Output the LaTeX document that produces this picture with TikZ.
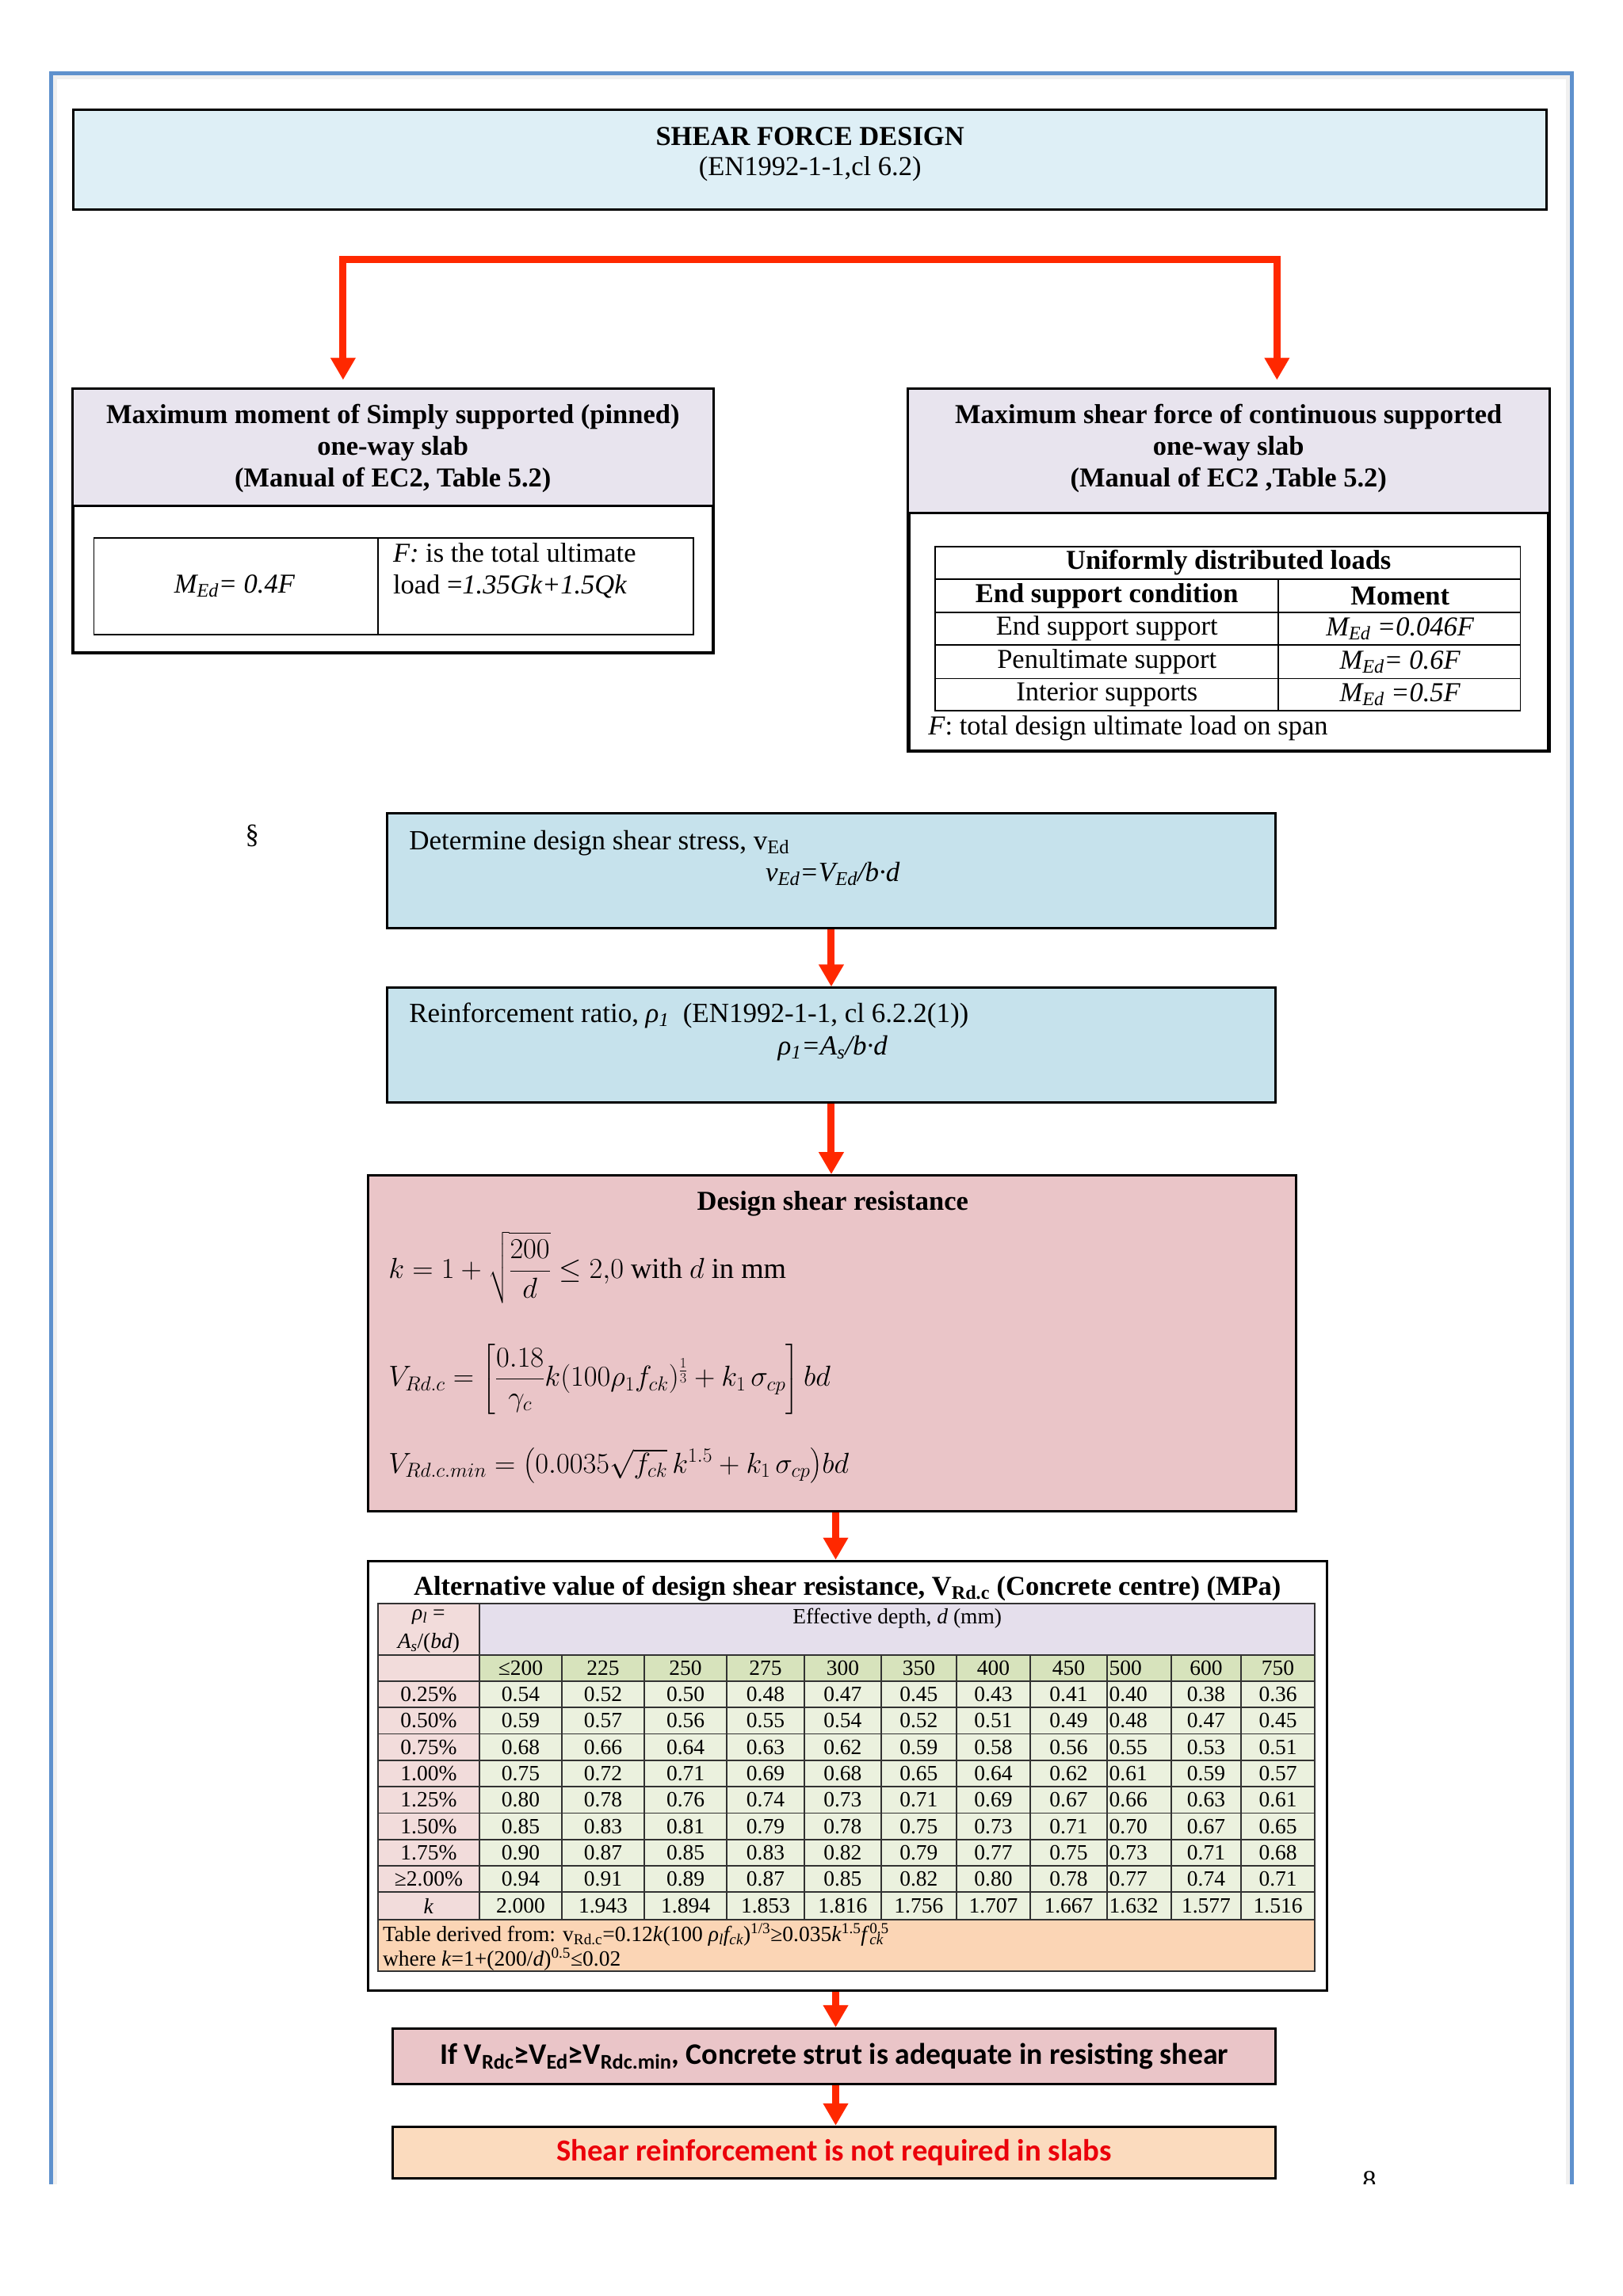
\RequirePackage{fix-cm}
\documentclass[tikz,border=0pt]{standalone}
\usepackage{amsmath}
\usepackage{fontspec}
\setmainfont{Liberation Serif}
\newfontfamily\carlito{Carlito}
\usetikzlibrary{arrows.meta,calc}
\definecolor{pageblue}{RGB}{95,145,205}
\definecolor{titleblue}{RGB}{222,239,246}
\definecolor{stepblue}{RGB}{198,226,236}
\definecolor{hdrlav}{RGB}{232,228,238}
\definecolor{pinkbox}{RGB}{234,197,200}
\definecolor{arrowred}{RGB}{255,40,0}
\definecolor{colpink}{RGB}{242,220,219}
\definecolor{rowlav}{RGB}{229,223,236}
\definecolor{rowgreen}{RGB}{215,227,188}
\definecolor{cellgreen}{RGB}{235,241,222}
\definecolor{footpeach}{RGB}{251,213,181}
\definecolor{lastpeach}{RGB}{251,219,190}
\definecolor{textred}{RGB}{235,0,10}
\definecolor{gridgray}{RGB}{50,50,50}
\tikzset{
  box/.style={draw=black, line width=3pt, inner sep=0pt, rectangle},
  boxsize/.style args={#1x#2}{minimum width=#1*1.85pt, minimum height=#2*1.85pt},
  txt/.style={inner sep=0pt, font=\fontsize{34.5}{39.8}\selectfont},
  hdr/.style={inner sep=0pt, font=\fontsize{34.5}{39.8}\selectfont\bfseries, align=center},
  steptxt/.style={inner sep=0pt, font=\fontsize{35}{40}\selectfont},
  tbl/.style={inner sep=0pt, font=\fontsize{27.5}{31}\selectfont},
  mathtxt/.style={inner sep=0pt, anchor=west, font=\fontsize{36.5}{42}\selectfont},
  thin/.style={draw=black, line width=1.8pt},
  grid/.style={draw=gridgray, line width=1.8pt},
  redarr/.style={draw=arrowred, line width=9pt, -{Triangle[width=30pt,length=28pt]}},
  bracket/.style={draw=arrowred, line width=9pt, {Triangle[width=30pt,length=28pt]}-{Triangle[width=30pt,length=28pt]}}
}
\newcommand\tblrow[3]{%
  \node[tbl] at (292.4,#1) {#2};
  \foreach \v [count=\c] in {#3} {
    \ifnum\c=9
      \node[tbl,anchor=west] at (756.5,#1) {\v};
    \else
      \pgfmathsetmacro\cx{{355.1,411.35,467.6,522.15,574.8,626.7,677.55,728.9,777,822.7,871.65}[\c-1]}
      \node[tbl] at (\cx,#1) {\v};
    \fi
  }%
}
\begin{document}
\begin{tikzpicture}[x=1.85pt,y=-1.85pt]
\useasboundingbox (0,0) rectangle (1107.03,1566.49);
\fill[white] (0,0) rectangle (1107.03,1566.49);

% page frame
\draw[gray!12, line width=5pt] (37.5,1490) -- (37.5,52.5) -- (1069.5,52.5) -- (1069.5,1490);
\draw[pageblue, line width=5pt] (35,1490) -- (35,50) -- (1072,50) -- (1072,1490);

% title
\node[box, fill=titleblue, boxsize=1005x68] (title) at (552.5,109) {};
\node[txt, font=\fontsize{34.5}{39.8}\selectfont\bfseries] (t1) at (552.5,93) {SHEAR FORCE DESIGN};
\node[txt] (t2) at (552.5,115) {(EN1992-1-1,cl 6.2)};

% left box
\node[box, fill=white, boxsize=436x179] (lbox) at (268,355.5) {};
\fill[hdrlav] (50,266) rectangle (486,345);
\draw[box] (lbox.north west) rectangle (lbox.south east);
\draw[box] (50,345) -- (486,345);
\node[hdr] (lhdr) at (268,306) {Maximum moment of Simply supported (pinned)\\one-way slab\\(Manual of EC2, Table 5.2)};
\draw[thin] (64,367) rectangle (473,433);
\draw[thin] (258,367) -- (258,433);
\node[txt] (med) at (160,400) {\textit{M\textsubscript{Ed}= 0.4F}};
\node[txt, anchor=west, align=left] (fdef) at (268,389.5) {\textit{F:} is the total ultimate\\load =\textit{1.35Gk+1.5Qk}};

% right box
\node[box, fill=white, boxsize=436x246] (rbox) at (838,389) {};
\fill[hdrlav] (620,266) rectangle (1056,350);
\draw[box] (rbox.north west) rectangle (rbox.south east);
\draw[box] (620,350) -- (1056,350);
\node[hdr] (rhdr) at (838,306) {Maximum shear force of continuous supported\\one-way slab\\(Manual of EC2 ,Table 5.2)};
\draw[thin] (638,373) rectangle (1037,485);
\foreach \yy in {395,418,440,463} \draw[thin] (638,\yy) -- (1037,\yy);
\draw[thin] (872,395) -- (872,485);
\node[txt, font=\fontsize{34.5}{39.8}\selectfont\bfseries] (udl) at (838,384) {Uniformly distributed loads};
\node[txt, font=\fontsize{34.5}{39.8}\selectfont\bfseries] (esc) at (755,406.5) {End support condition};
\node[txt, font=\fontsize{34.5}{39.8}\selectfont\bfseries] (mom) at (955,406.5) {Moment};
\node[txt] (r1a) at (755,429) {End support support};
\node[txt] (r1b) at (955,429) {\textit{M\textsubscript{Ed} =0.046F}};
\node[txt] (r2a) at (755,451.5) {Penultimate support};
\node[txt] (r2b) at (955,451.5) {\textit{M\textsubscript{Ed}= 0.6F}};
\node[txt] (r3a) at (755,474) {Interior supports};
\node[txt] (r3b) at (955,474) {\textit{M\textsubscript{Ed} =0.5F}};
\node[txt, anchor=west] (fnote) at (633,497) {\textit{F}: total design ultimate load on span};

% bracket connector
\draw[bracket, shorten <=11pt, shorten >=11pt] (lbox.north -| 234,0) -- (234,177) -- (871,177) -- (rbox.north -| 871,0);

% section sign
\node[txt] (sect) at (172,570) {§};

% step boxes
\node[box, fill=stepblue, boxsize=606x78] (vbox) at (567,594) {};
\node[steptxt, anchor=west] (vtxt) at (279,575) {Determine design shear stress, v\textsubscript{Ed}};
\node[steptxt] (vfor) at (568,596) {\textit{v\textsubscript{Ed}=V\textsubscript{Ed}/b·d}};

\node[box, fill=stepblue, boxsize=606x78] (rhobox) at (567,713) {};
\node[steptxt, anchor=west] (rtxt) at (279,693) {Reinforcement ratio, \textit{ρ\textsubscript{1}}\ \ (EN1992-1-1, cl 6.2.2(1))};
\node[steptxt] (rfor) at (568,715) {\textit{ρ\textsubscript{1}=A\textsubscript{s}/b·d}};

\draw[redarr] (vbox.south) -- (rhobox.north);

% design shear resistance
\node[box, fill=pinkbox, boxsize=633x229] (dsr) at (567.5,916.5) {};
\draw[redarr] (rhobox.south) -- (dsr.north -| rhobox.south);
\node[txt, font=\fontsize{34.5}{39.8}\selectfont\bfseries] (dsrt) at (568,821) {Design shear resistance};
\node[mathtxt] (fk) at (265,865) {$k = 1+\sqrt{\dfrac{200}{d}}\le 2{,}0 \text{ with } d \text{ in mm}$};
\node[mathtxt] (fv) at (265,941) {$V_{Rd.c}=\left[\dfrac{0.18}{\gamma_c}k(100\rho_1 f_{ck})^{\frac{1}{3}}+k_1\,\sigma_{cp}\right]bd$};
\node[mathtxt] (fvm) at (265,1000) {$V_{Rd.c.min}=\bigl(0.0035\sqrt{f_{ck}}\,k^{1.5}+k_1\,\sigma_{cp}\bigr)bd$};

% table box
\node[box, fill=white, boxsize=654x293] (tbox) at (578,1211.5) {};
\coordinate (ax) at (570,0);
\draw[redarr] (dsr.south -| ax) -- (tbox.north -| ax);
\node[txt, font=\fontsize{34.5}{39.8}\selectfont\bfseries] (ttitle) at (578,1084) {Alternative value of design shear resistance, V\textsubscript{Rd.c} (Concrete centre) (MPa)};

% table fills
\fill[colpink] (257.8,1094) rectangle (327,1309.5);
\fill[rowlav] (327,1094) rectangle (896.8,1129);
\fill[rowgreen] (327,1129) rectangle (896.8,1147);
\fill[cellgreen] (327,1147) rectangle (896.8,1309.5);
\fill[footpeach] (257.8,1309.5) rectangle (896.8,1345);
% grid
\foreach \yy in {1129,1147,1165,1183,1201,1219,1237,1255,1273,1291,1309.5}
  \draw[grid] (257.8,\yy) -- (896.8,\yy);
\draw[grid] (327,1094) -- (327,1309.5);
\foreach \xx in {383.2,439.5,495.7,548.6,601,652.4,702.7,755.1,798.9,846.5}
  \draw[grid] (\xx,1129) -- (\xx,1309.5);
\draw[grid] (257.8,1094) rectangle (896.8,1345);

% table texts
\node[tbl] (rho) at (292.4,1103) {\textit{ρ\textsubscript{l}} =};
\node[tbl] (asbd) at (292.4,1121) {\textit{A\textsubscript{s}}/(\textit{bd})};
\node[tbl] (effd) at (612,1104) {Effective depth, \textit{d} (mm)};
\tblrow{1138}{}{≤200,225,250,275,300,350,400,450,500,600,750}
\tblrow{1156}{0.25\%}{0.54,0.52,0.50,0.48,0.47,0.45,0.43,0.41,0.40,0.38,0.36}
\tblrow{1174}{0.50\%}{0.59,0.57,0.56,0.55,0.54,0.52,0.51,0.49,0.48,0.47,0.45}
\tblrow{1192}{0.75\%}{0.68,0.66,0.64,0.63,0.62,0.59,0.58,0.56,0.55,0.53,0.51}
\tblrow{1210}{1.00\%}{0.75,0.72,0.71,0.69,0.68,0.65,0.64,0.62,0.61,0.59,0.57}
\tblrow{1228}{1.25\%}{0.80,0.78,0.76,0.74,0.73,0.71,0.69,0.67,0.66,0.63,0.61}
\tblrow{1246}{1.50\%}{0.85,0.83,0.81,0.79,0.78,0.75,0.73,0.71,0.70,0.67,0.65}
\tblrow{1264}{1.75\%}{0.90,0.87,0.85,0.83,0.82,0.79,0.77,0.75,0.73,0.71,0.68}
\tblrow{1282}{≥2.00\%}{0.94,0.91,0.89,0.87,0.85,0.82,0.80,0.78,0.77,0.74,0.71}
\tblrow{1300.25}{\textit{k}}{2.000,1.943,1.894,1.853,1.816,1.756,1.707,1.667,1.632,1.577,1.516}
\node[tbl, anchor=west] (foot1) at (261,1320) {Table derived from: v\textsubscript{Rd.c}=0.12\textit{k}(100 \textit{ρ\textsubscript{l}f\textsubscript{ck}})\textsuperscript{1/3}≥0.035\textit{k}\textsuperscript{1.5}\textit{f}\rlap{\textsuperscript{0.5}}\textsubscript{\textit{ck}}};
\node[tbl, anchor=west] (foot2) at (261,1337) {where \textit{k}=1+(200/\textit{d})\textsuperscript{0.5}≤0.02};

% conclusion boxes
\node[box, fill=pinkbox, boxsize=602x38] (ifbox) at (569,1403) {};
\draw[redarr] (tbox.south -| ax) -- (ifbox.north -| ax);
\node[inner sep=0pt, font=\carlito\bfseries\fontsize{37.7}{42}\selectfont] (iftxt) at (569,1403) {If V\textsubscript{Rdc}≥V\textsubscript{Ed}≥V\textsubscript{Rdc.min}, Concrete strut is adequate in resisting shear};

\node[box, fill=lastpeach, boxsize=602x35] (endbox) at (569,1468.5) {};
\draw[redarr] (ifbox.south -| ax) -- (endbox.north -| ax);
\node[inner sep=0pt, text=textred, font=\carlito\bfseries\fontsize{38.7}{43}\selectfont] (endtxt) at (569,1468.5) {Shear reinforcement is not required in slabs};

% page number (cut off)
\begin{scope}
\clip (900,1470) rectangle (970,1490);
\node[txt, anchor=north] (pnum) at (934,1481) {8};
\end{scope}
\end{tikzpicture}
\end{document}
